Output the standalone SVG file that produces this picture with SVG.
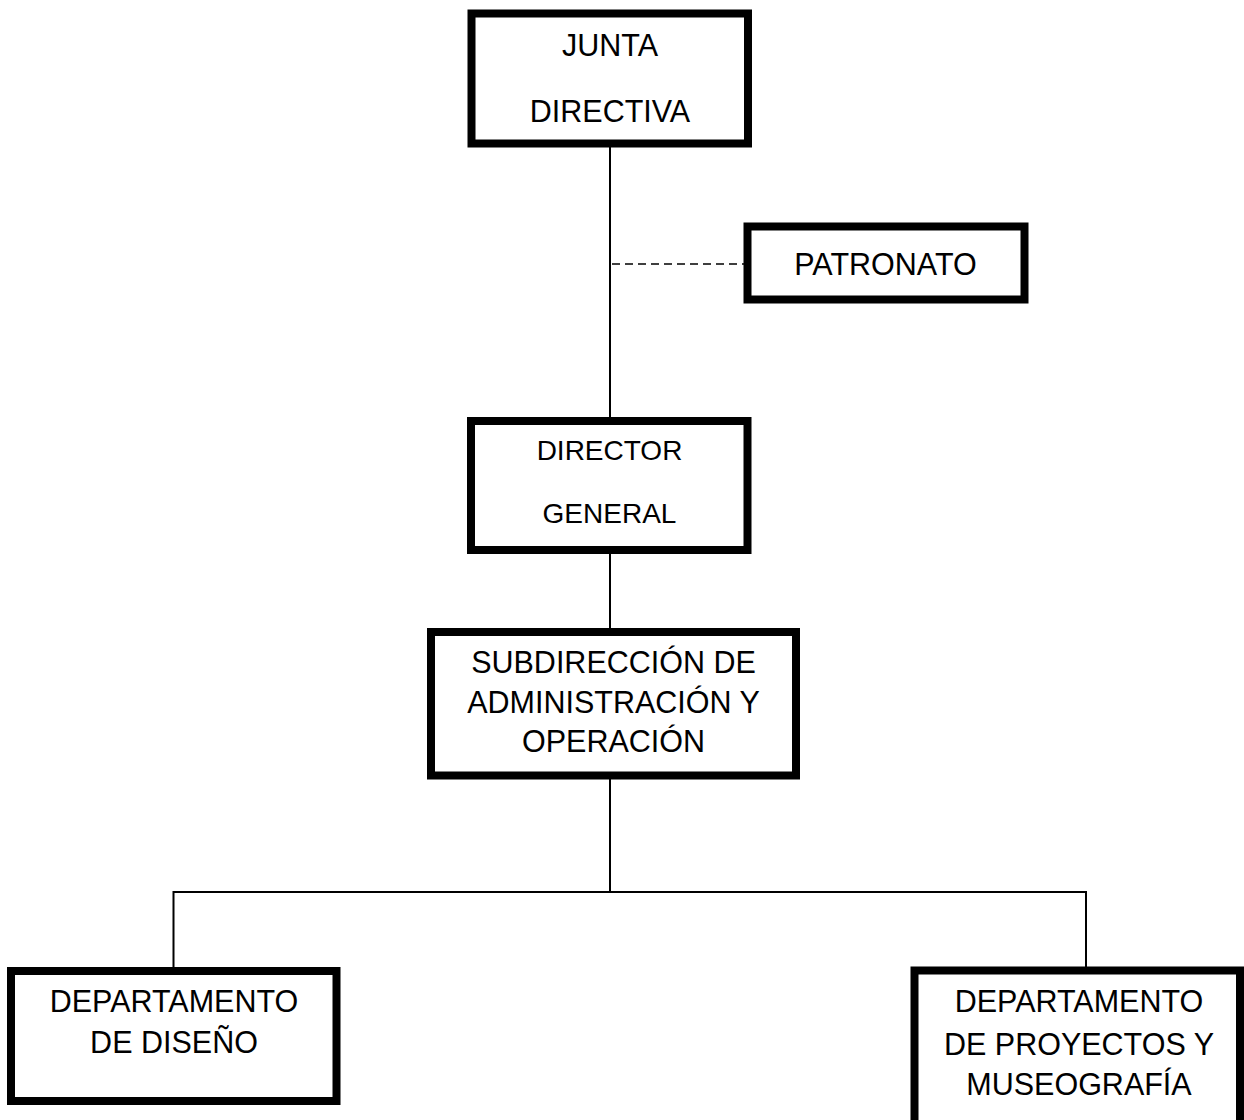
<svg xmlns="http://www.w3.org/2000/svg" width="1244" height="1120" viewBox="0 0 1244 1120">
<style>
.box{fill:#fff;stroke:#000;stroke-width:8}
.t{font-family:"Liberation Sans",Arial,sans-serif;font-size:30.5px;fill:#000;text-anchor:middle}
.s{font-size:28px}
.ln{stroke:#000;stroke-width:2;fill:none}
.dash{stroke:#000;stroke-width:1.6;stroke-dasharray:8 5;fill:none}
</style>
<rect width="1244" height="1120" fill="#fff"/>
<g id="connectors">
<line class="ln" x1="610" y1="146" x2="610" y2="420"/>
<line class="dash" x1="612" y1="264" x2="744" y2="264"/>
<line class="ln" x1="610" y1="552" x2="610" y2="630"/>
<line class="ln" x1="610" y1="777" x2="610" y2="892"/>
<polyline class="ln" points="173.5,968 173.5,892 1086,892 1086,968"/>
</g>
<g id="junta">
<rect class="box" x="471.5" y="13.5" width="276.5" height="130"/>
<text class="t" x="610" y="56">JUNTA</text>
<text class="t" x="610" y="122">DIRECTIVA</text>
</g>
<g id="patronato">
<rect class="box" x="747.5" y="226.5" width="277" height="73"/>
<text class="t" x="885.5" y="275">PATRONATO</text>
</g>
<g id="director">
<rect class="box" x="471" y="421" width="276.5" height="129"/>
<text class="t s" x="609.5" y="460">DIRECTOR</text>
<text class="t s" x="609.5" y="523">GENERAL</text>
</g>
<g id="subdireccion">
<rect class="box" x="431" y="632" width="365" height="143.5"/>
<text class="t" x="613.5" y="673">SUBDIRECCIÓN DE</text>
<text class="t" x="613.5" y="712.5">ADMINISTRACIÓN Y</text>
<text class="t" x="613.5" y="751.5">OPERACIÓN</text>
</g>
<g id="diseno">
<rect class="box" x="11" y="971" width="325.5" height="130"/>
<text class="t" x="174" y="1011.5">DEPARTAMENTO</text>
<text class="t" x="174" y="1053">DE DISEÑO</text>
</g>
<g id="proyectos">
<rect class="box" x="914.5" y="970.5" width="325.5" height="160"/>
<text class="t" x="1079" y="1011.5">DEPARTAMENTO</text>
<text class="t" x="1079" y="1055">DE PROYECTOS Y</text>
<text class="t" x="1079" y="1095">MUSEOGRAFÍA</text>
</g>
</svg>
